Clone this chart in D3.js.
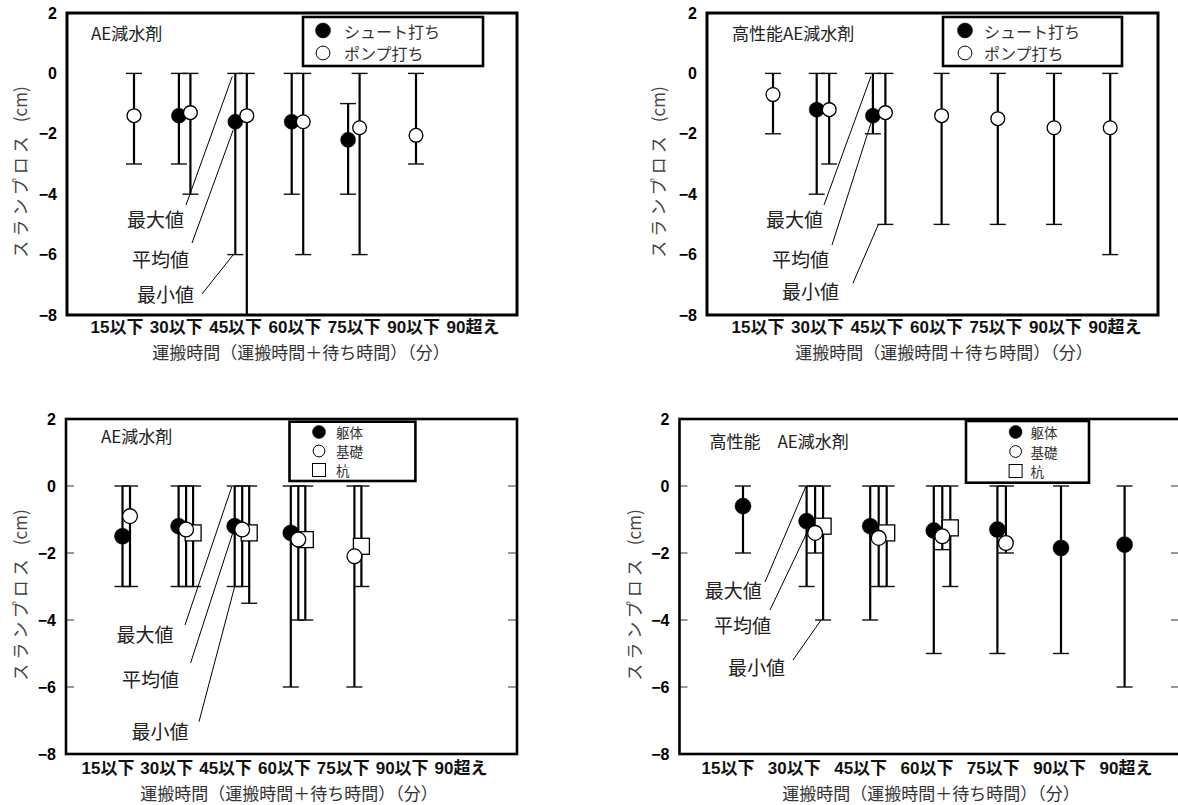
<!DOCTYPE html>
<html><head><meta charset="utf-8">
<script src="https://cdn.jsdelivr.net/npm/d3@7"></script>
<style>body{margin:0;background:#fff} svg{display:block}</style>
</head><body>
<svg id="c" width="1178" height="805"></svg>
<script>
// ---------------- data ----------------
const categories = ["15以下","30以下","45以下","60以下","75以下","90以下","90超え"];
const yTicks = [2, 0, -2, -4, -6, -8];

// Panel 1: AE減水剤 (シュート打ち / ポンプ打ち)
const p1ChuteMean = [null, -1.4, -1.6, -1.6, -2.2, null, null];
const p1ChuteMax  = [null, 0, 0, 0, -1, null, null];
const p1ChuteMin  = [null, -3, -6, -4, -4, null, null];
const p1PumpMean  = [-1.4, -1.3, -1.4, -1.6, -1.8, -2.05, null];
const p1PumpMax   = [0, 0, 0, 0, 0, 0, null];
const p1PumpMin   = [-3, -4, -8, -6, -6, -3, null];

// Panel 2: 高性能AE減水剤 (シュート打ち / ポンプ打ち)
const p2ChuteMean = [null, -1.2, -1.4, null, null, null, null];
const p2ChuteMax  = [null, 0, 0, null, null, null, null];
const p2ChuteMin  = [null, -4, -2, null, null, null, null];
const p2PumpMean  = [-0.7, -1.2, -1.3, -1.4, -1.5, -1.8, -1.8];
const p2PumpMax   = [0, 0, 0, 0, 0, 0, 0];
const p2PumpMin   = [-2, -3, -5, -5, -5, -5, -6];

// Panel 3: AE減水剤 (躯体 / 基礎 / 杭)
const p3BodyMean  = [-1.5, -1.2, -1.2, -1.4, null, null, null];
const p3BodyMax   = [0, 0, 0, 0, null, null, null];
const p3BodyMin   = [-3, -3, -3, -6, null, null, null];
const p3FoundMean = [-0.9, -1.3, -1.3, -1.6, -2.1, null, null];
const p3FoundMax  = [0, 0, 0, 0, 0, null, null];
const p3FoundMin  = [-3, -3, -3, -4, -6, null, null];
const p3PileMean  = [null, -1.4, -1.4, -1.6, -1.8, null, null];
const p3PileMax   = [null, 0, 0, 0, 0, null, null];
const p3PileMin   = [null, -3, -3.5, -4, -3, null, null];

// Panel 4: 高性能 AE減水剤 (躯体 / 基礎 / 杭)
const p4BodyMean  = [-0.6, -1.05, -1.2, -1.33, -1.3, -1.85, -1.75];
const p4BodyMax   = [0, 0, 0, 0, 0, 0, 0];
const p4BodyMin   = [-2, -3, -4, -5, -5, -5, -6];
const p4FoundMean = [null, -1.4, -1.55, -1.5, -1.7, null, null];
const p4FoundMax  = [null, 0, 0, 0, 0, null, null];
const p4FoundMin  = [null, -2, -3, -1.9, -2, null, null];
const p4PileMean  = [null, -1.2, -1.4, -1.25, null, null, null];
const p4PileMax   = [null, 0, 0, 0, null, null, null];
const p4PileMin   = [null, -4, -3, -3, null, null, null];

const xTitle = "運搬時間（運搬時間＋待ち時間）（分）";
const annotLabels = ["最大値", "平均値", "最小値"];

// ---------------- layout ----------------
const JP = "'Noto Sans CJK JP', 'Noto Sans', sans-serif";
const NUM = "'Liberation Sans', Arial, 'Noto Sans CJK JP', sans-serif";

const panels = [
  {
    box: [67, 13, 517, 315], barStart: 134, barStep: 56.4, labelRange: [117, 473], labelY: 333,
    title: "AE減水剤", titlePos: [91, 40], yTitle: [19, 172], xTitlePos: [301, 359],
    r: 7.5, ticks: false, frameW: 3,
    legend: {box: [303, 17, 483, 66], mx: 323, tx: 344, ys: [30.5, 53], fs: 16, r: 7.5},
    series: [
      {name: "シュート打ち", shape: "black", off: -11.5, mean: p1ChuteMean, max: p1ChuteMax, min: p1ChuteMin},
      {name: "ポンプ打ち", shape: "white", off: 0, mean: p1PumpMean, max: p1PumpMax, min: p1PumpMin}
    ],
    order: [0, 1],
    annots: [
      {tx: 127, ty: 227, sx: 186, sy: 205, s: 0, c: 2, k: "max", dx: -3, dy: 3},
      {tx: 132, ty: 267, sx: 192, sy: 243, s: 0, c: 2, k: "mean", dx: -2, dy: 8},
      {tx: 137, ty: 302, sx: 202, sy: 294, s: 0, c: 2, k: "min", dx: -2, dy: 0}
    ]
  },
  {
    box: [707, 13, 1158, 315], barStart: 773, barStep: 56.2, labelRange: [758, 1115], labelY: 333,
    title: "高性能AE減水剤", titlePos: [732, 40], yTitle: [657, 172], xTitlePos: [944, 359],
    r: 7.5, ticks: false, frameW: 3,
    legend: {box: [943, 17, 1122, 66], mx: 965, tx: 984, ys: [30.5, 53], fs: 16, r: 7.5},
    series: [
      {name: "シュート打ち", shape: "black", off: -12.5, mean: p2ChuteMean, max: p2ChuteMax, min: p2ChuteMin},
      {name: "ポンプ打ち", shape: "white", off: 0, mean: p2PumpMean, max: p2PumpMax, min: p2PumpMin}
    ],
    order: [0, 1],
    annots: [
      {tx: 766, ty: 227, sx: 824, sy: 205, s: 0, c: 2, k: "max", dx: -2, dy: 3},
      {tx: 772, ty: 267, sx: 832, sy: 245, s: 0, c: 2, k: "mean", dx: -2, dy: 7.5},
      {tx: 782, ty: 299, sx: 853, sy: 283, s: 1, c: 2, k: "min", dx: -7, dy: 0}
    ]
  },
  {
    box: [66, 419, 517, 754], barStart: 130, barStep: 56.1, labelRange: [108, 461], labelY: 774,
    title: "AE減水剤", titlePos: [101, 443], yTitle: [19, 595], xTitlePos: [289, 800],
    r: 8, ticks: true, frameW: 2.6,
    legend: {box: [289.5, 421.7, 415.4, 481], mx: 319, tx: 336, ys: [432, 451, 470], fs: 13.5, r: 6.5},
    series: [
      {name: "躯体", shape: "black", off: -7.5, mean: p3BodyMean, max: p3BodyMax, min: p3BodyMin},
      {name: "基礎", shape: "white", off: 0, mean: p3FoundMean, max: p3FoundMax, min: p3FoundMin},
      {name: "杭", shape: "square", off: 7, mean: p3PileMean, max: p3PileMax, min: p3PileMin}
    ],
    order: [2, 0, 1],
    annots: [
      {tx: 116.5, ty: 642, sx: 185, sy: 625, s: 0, c: 2, k: "max", dx: -3, dy: 1},
      {tx: 122, ty: 687, sx: 190.6, sy: 663, s: 0, c: 2, k: "mean", dx: -2, dy: 7},
      {tx: 131.6, ty: 739, sx: 199, sy: 721.7, s: 0, c: 2, k: "min", dx: 0, dy: 0}
    ]
  },
  {
    box: [679.5, 419, 1180, 754], barStart: 743, barStep: 63.6, labelRange: [728, 1126], labelY: 774,
    title: "高性能　AE減水剤", titlePos: [709.5, 448], yTitle: [632.5, 595], xTitlePos: [931, 800],
    r: 8, ticks: true, frameW: 2.6,
    legend: {box: [966, 421, 1089, 482.7], mx: 1015.6, tx: 1030.6, ys: [432, 451.5, 471], fs: 13.5, r: 6.5},
    series: [
      {name: "躯体", shape: "black", off: 0, mean: p4BodyMean, max: p4BodyMax, min: p4BodyMin},
      {name: "基礎", shape: "white", off: 8.5, mean: p4FoundMean, max: p4FoundMax, min: p4FoundMin},
      {name: "杭", shape: "square", off: 16.5, mean: p4PileMean, max: p4PileMax, min: p4PileMin}
    ],
    order: [2, 0, 1],
    annots: [
      {tx: 704.7, ty: 598, sx: 765, sy: 582, s: 0, c: 1, k: "max", dx: -1, dy: 1},
      {tx: 714, ty: 633, sx: 770, sy: 610, s: 0, c: 1, k: "mean", dx: 2, dy: 8},
      {tx: 728, ty: 675, sx: 793, sy: 660, s: 2, c: 1, k: "min", dx: -2, dy: 0}
    ]
  }
];

// ---------------- drawing ----------------
const svg = d3.select("#c");

function marker(sel, shape, r, sw) {
  sel.each(function(d) {
    const g = d3.select(this);
    if (shape === "square") {
      g.append("rect").attr("x", -r).attr("y", -r).attr("width", 2 * r).attr("height", 2 * r)
        .attr("fill", "#fff").attr("stroke", "#000").attr("stroke-width", sw);
    } else {
      g.append("circle").attr("r", shape === "black" ? r : r - 0.6)
        .attr("fill", shape === "black" ? "#000" : "#fff")
        .attr("stroke", "#000").attr("stroke-width", shape === "black" ? 0.5 : sw);
    }
  });
}

panels.forEach(p => {
  const [x0, y0, x1, y1] = p.box;
  const g = svg.append("g");
  const y = d3.scaleLinear().domain([-8, 2]).range([y1, y0]);
  const xb = d3.scalePoint().domain(categories).range([p.barStart, p.barStart + 6 * p.barStep]);
  const xl = d3.scalePoint().domain(categories).range(p.labelRange);

  // inner ticks
  if (p.ticks) {
    g.selectAll(".tl").data(yTicks).join("line")
      .attr("x1", x0).attr("x2", x0 + 8).attr("y1", d => y(d)).attr("y2", d => y(d))
      .attr("stroke", "#777").attr("stroke-width", 1.5);
    g.selectAll(".tr").data(yTicks).join("line")
      .attr("x1", x1 - 9).attr("x2", x1).attr("y1", d => y(d)).attr("y2", d => y(d))
      .attr("stroke", "#777").attr("stroke-width", 1.5);
  }

  // y axis labels
  const ax = g.append("g").attr("transform", `translate(${x0},0)`)
    .call(d3.axisLeft(y).tickValues(yTicks).tickSize(0).tickPadding(10));
  ax.select(".domain").remove();
  ax.selectAll("text").attr("font-family", NUM).attr("font-size", 16)
    .attr("font-weight", "bold").attr("fill", "#000");

  // x labels
  g.selectAll(".xl").data(categories).join("text")
    .attr("x", d => xl(d)).attr("y", p.labelY).attr("text-anchor", "middle")
    .attr("font-family", NUM).attr("font-size", 17).attr("font-weight", "bold")
    .attr("fill", "#111").text(d => d);

  // x title
  g.append("text").attr("x", p.xTitlePos[0]).attr("y", p.xTitlePos[1]).attr("text-anchor", "middle")
    .attr("font-family", JP).attr("font-size", 17).attr("fill", "#333").text(xTitle);

  // y title
  const yt = g.append("text")
    .attr("transform", `translate(${p.yTitle[0]},${p.yTitle[1]}) rotate(-90)`)
    .attr("text-anchor", "middle").attr("dominant-baseline", "central")
    .attr("font-family", JP).attr("font-size", 17).attr("fill", "#444");
  yt.append("tspan").attr("letter-spacing", 4).text("スランプロス");
  yt.append("tspan").attr("dx", 10).text("(cm)");

  // error bars
  const pts = p.series.map(s => categories.map((c, i) => ({c, mean: s.mean[i], max: s.max[i], min: s.min[i]}))
    .filter(d => d.mean != null));
  p.series.forEach((s, si) => {
    const data = pts[si];
    g.selectAll(null).data(data).join("line")
      .attr("x1", d => xb(d.c) + s.off).attr("x2", d => xb(d.c) + s.off)
      .attr("y1", d => y(d.max)).attr("y2", d => y(d.min))
      .attr("stroke", "#000").attr("stroke-width", 2.2);
    ["max", "min"].forEach(k => {
      g.selectAll(null).data(data.filter(d => d[k] > -8)).join("line")
        .attr("x1", d => xb(d.c) + s.off - 8).attr("x2", d => xb(d.c) + s.off + 8)
        .attr("y1", d => y(d[k])).attr("y2", d => y(d[k]))
        .attr("stroke", "#111").attr("stroke-width", 1.4);
    });
  });

  // markers
  p.order.forEach(si => {
    const s = p.series[si];
    g.selectAll(null).data(pts[si]).join("g")
      .attr("transform", d => `translate(${xb(d.c) + s.off},${y(d.mean)})`)
      .call(sel => marker(sel, s.shape, p.r, 1.3));
  });

  // frame
  g.append("rect").attr("x", x0).attr("y", y0).attr("width", x1 - x0).attr("height", y1 - y0)
    .attr("fill", "none").attr("stroke", "#000").attr("stroke-width", p.frameW);

  // title
  g.append("text").attr("x", p.titlePos[0]).attr("y", p.titlePos[1])
    .attr("font-family", JP).attr("font-size", 17).attr("fill", "#222").text(p.title);

  // legend
  const L = p.legend;
  g.append("rect").attr("x", L.box[0]).attr("y", L.box[1])
    .attr("width", L.box[2] - L.box[0]).attr("height", L.box[3] - L.box[1])
    .attr("fill", "#fff").attr("stroke", "#000").attr("stroke-width", 2.6);
  p.series.forEach((s, i) => {
    g.append("g").attr("transform", `translate(${L.mx},${L.ys[i]})`).datum(s)
      .call(sel => marker(sel, s.shape, L.r, 1));
    g.append("text").attr("x", L.tx).attr("y", L.ys[i]).attr("dominant-baseline", "central")
      .attr("font-family", JP).attr("font-size", L.fs).attr("fill", "#333").text(s.name);
  });

  // annotations
  p.annots.forEach((a, i) => {
    const s = p.series[a.s];
    const c = categories[a.c];
    const ex = xb(c) + s.off + a.dx;
    const ey = y(s[a.k][a.c]) + a.dy;
    g.append("line").attr("x1", a.sx).attr("y1", a.sy).attr("x2", ex).attr("y2", ey)
      .attr("stroke", "#000").attr("stroke-width", 1);
    g.append("text").attr("x", a.tx).attr("y", a.ty)
      .attr("font-family", JP).attr("font-size", 19).attr("fill", "#222").text(annotLabels[i]);
  });
});
</script>
</body></html>
